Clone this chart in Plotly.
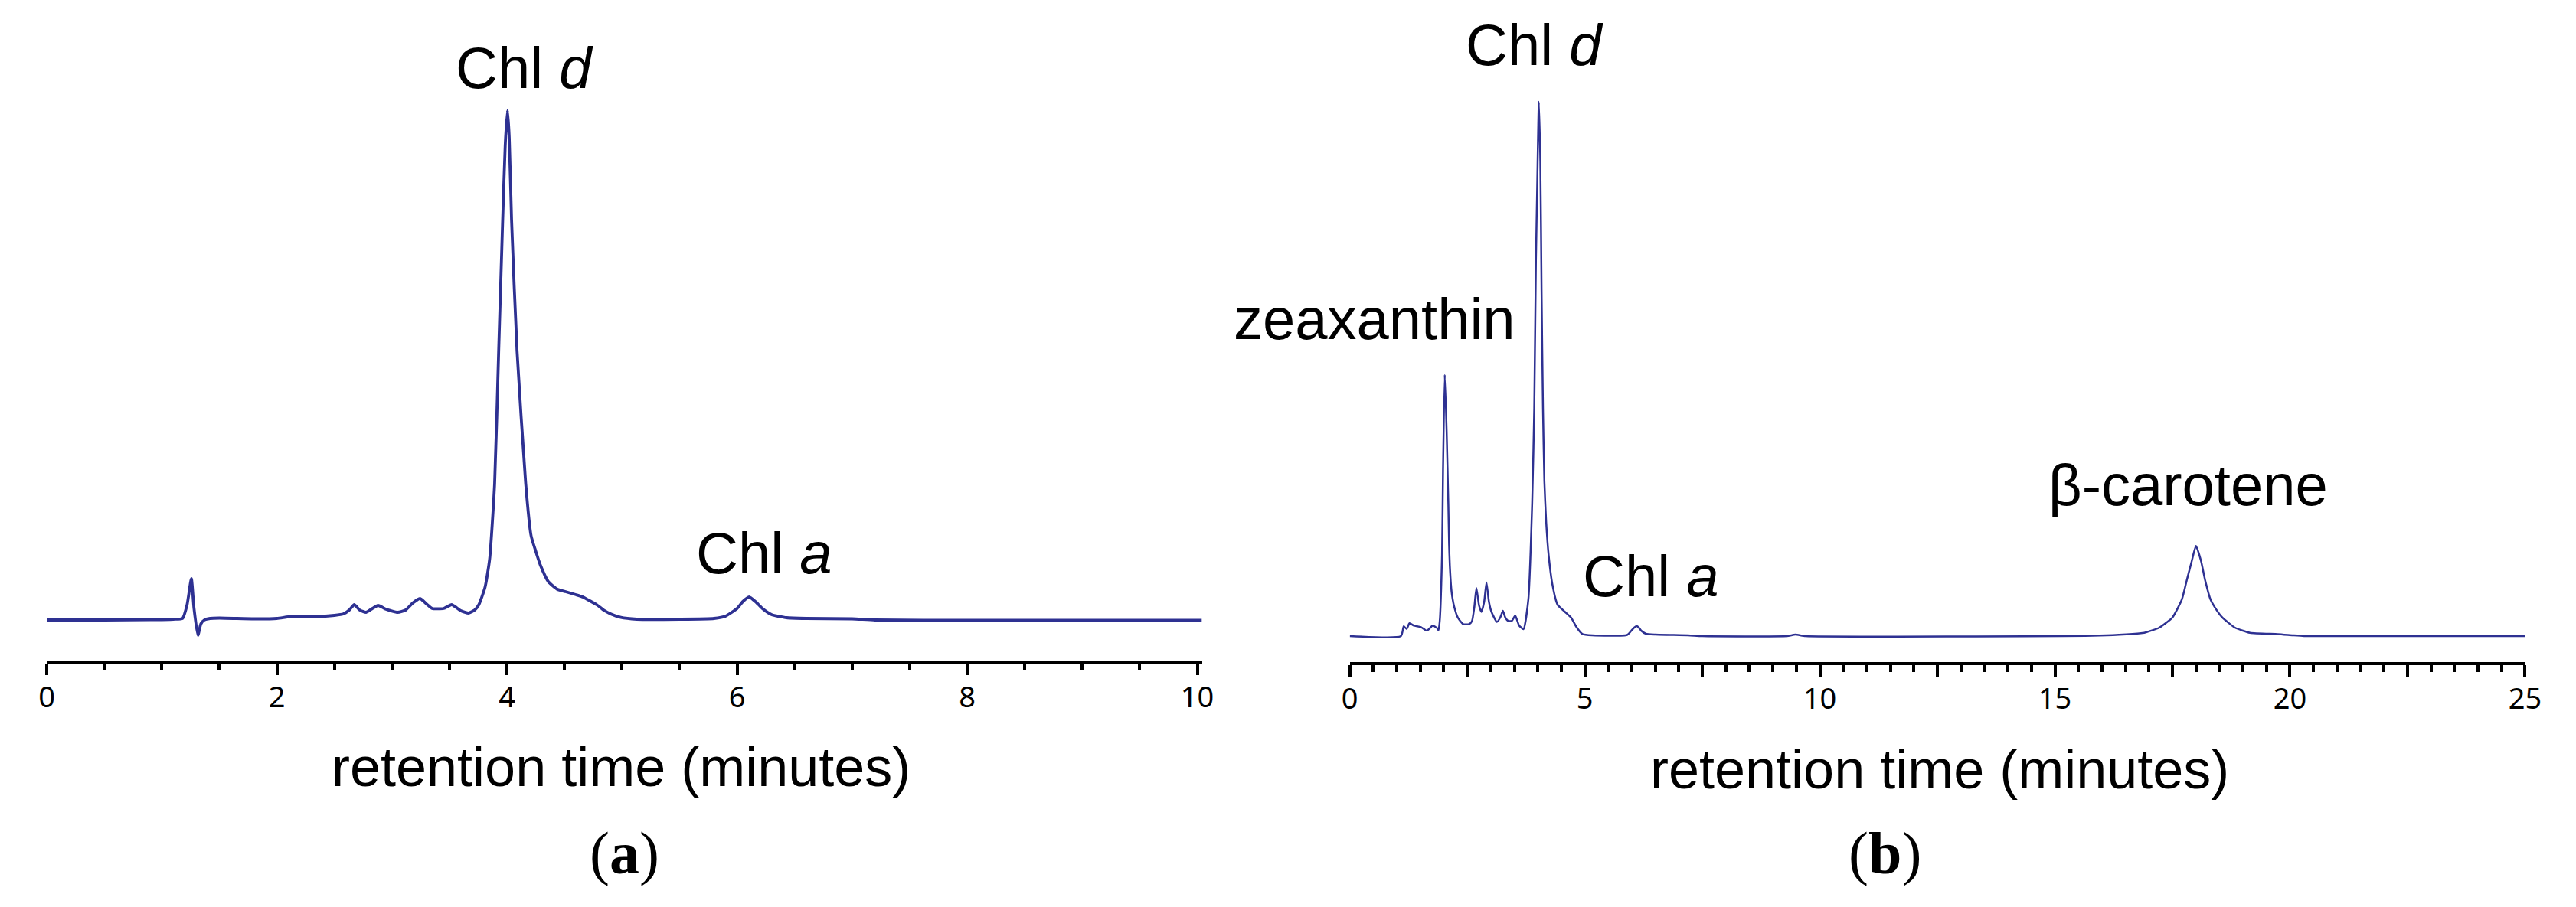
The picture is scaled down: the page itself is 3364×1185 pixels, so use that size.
import plotly.graph_objects as go

# ---------------- data ----------------
# Panel (a): retention time (min) and detector signal (arbitrary units, baseline = 0)
time_a = [0, 0.5, 0.9, 1.1, 1.18, 1.22, 1.257, 1.28, 1.314, 1.34, 1.37, 1.42, 1.5, 1.8,
          2.0, 2.12, 2.3, 2.5, 2.58, 2.63, 2.673, 2.72, 2.776, 2.83, 2.88, 2.95, 3.05,
          3.12, 3.18, 3.245, 3.3, 3.35, 3.45, 3.52, 3.6, 3.667, 3.72, 3.756, 3.81, 3.85,
          3.893, 3.928, 3.963, 3.985, 4.005, 4.02, 4.04, 4.088, 4.163, 4.21, 4.25, 4.29,
          4.36, 4.44, 4.51, 4.6, 4.66, 4.72, 4.78, 4.84, 4.9, 4.99, 5.13, 5.5, 5.8, 5.9,
          6.0, 6.05, 6.105, 6.16, 6.22, 6.3, 6.43, 6.6, 7.0, 7.2, 8.0, 10.04]
signal_a = [0, 0, 0.3, 1, 2, 20, 54, 15, -20, -5, 0, 2, 2.5, 1.5,
            2, 4.5, 4, 6, 8, 13, 20, 13, 10, 15, 19, 14, 10,
            13, 22, 28, 21, 15, 15, 20, 12, 9, 13, 20, 43, 80,
            178, 351, 523, 620, 666, 630, 523, 351, 178, 110, 90, 72,
            50, 40, 37, 33, 30, 25, 20, 13, 8, 3.3, 1, 1, 2, 5,
            15, 24, 30, 24, 15, 7, 3, 2, 1.5, 0, -0.5, -0.5]

# Panel (b)
time_b = [0, 1.09, 1.148, 1.21, 1.27, 1.365, 1.516, 1.64, 1.766, 1.858, 1.887, 1.914,
          1.963, 1.984, 2.021, 2.06, 2.097, 2.113, 2.129, 2.166, 2.22, 2.30, 2.41, 2.54,
          2.60, 2.65, 2.694, 2.75, 2.80, 2.86, 2.908, 2.96, 3.015, 3.13, 3.2, 3.258, 3.31,
          3.376, 3.45, 3.52, 3.6, 3.696, 3.80, 3.88, 3.925, 3.96, 3.99, 4.022, 4.054, 4.08,
          4.11, 4.14, 4.178, 4.23, 4.31, 4.42, 4.58, 4.71, 4.82, 4.95, 5.16, 5.9, 5.99,
          6.05, 6.105, 6.15, 6.2, 6.3, 6.5, 7.2, 7.5, 9.3, 9.48, 9.7, 15.8, 16.36, 16.9,
          17.22, 17.5, 17.7, 17.81, 17.91, 18.0, 18.11, 18.19, 18.31, 18.4, 18.56, 18.83,
          19.15, 19.74, 20.06, 20.3, 25]
signal_b = [0, 0, 12.7, 9.3, 16.7, 13.7, 11.7, 7, 13.7, 10.3, 7.5, 19.5,
            106, 216.6, 341.6, 269.5, 173, 120.4, 91.6, 58, 38.7, 24, 15.6, 15.6,
            19.5, 38, 62.7, 40, 31.5, 45, 69.9, 45, 31.5, 18.5, 24, 33, 24,
            19.5, 20, 26.7, 14, 9, 48.3, 173, 298, 490, 596, 698, 620, 452,
            298, 202, 149, 106, 67.6, 41, 31.5, 24, 12, 2.6, 1, 1.5, 7,
            11, 13, 11, 7, 3, 2, 1, 0, 0, 2, 0, 0.5, 1.7, 4.3,
            11, 24.3, 47.7, 74.3, 97.7, 117.7, 97.7, 74.3, 47.7, 37.7, 24.3, 11,
            4.3, 2.6, 1, 0, 0]

ticks_a = [0, 2, 4, 6, 8, 10]
tickvals_b = [0, 2.5, 5, 7.5, 10, 12.5, 15, 17.5, 20, 22.5, 25]
ticktext_b = ["0", "", "5", "", "10", "", "15", "", "20", "", "25"]

# ---------------- layout helpers (pixels -> paper) ----------------
W, H = 3364, 1185
def px(x):
    return x / W
def py(y):
    return 1 - y / H

LINE = "#2e3192"
SANS = "Liberation Sans, Arial, sans-serif"
SERIF = "Liberation Serif, Times New Roman, serif"

fig = go.Figure()
fig.add_trace(go.Scatter(x=time_a, y=signal_a, mode="lines", xaxis="x", yaxis="y",
                         line=dict(color=LINE, width=3.8, shape="spline", smoothing=0.5),
                         showlegend=False, hoverinfo="skip"))
fig.add_trace(go.Scatter(x=time_b, y=signal_b, mode="lines", xaxis="x2", yaxis="y2",
                         line=dict(color=LINE, width=2.5, shape="spline", smoothing=0.5),
                         showlegend=False, hoverinfo="skip"))

axis_common = dict(showgrid=False, zeroline=False, showline=True, linecolor="black",
                   linewidth=4, ticks="outside", ticklen=15, tickwidth=3.5, tickcolor="black",
                   ticklabelstandoff=-4,
                   tickfont=dict(family="Noto Sans, sans-serif", size=38, color="black"),
                   minor=dict(ticks="outside", ticklen=9, tickwidth=3.5, tickcolor="black",
                              dtick=0.5, tick0=0, showgrid=False))

fig.update_layout(
    width=W, height=H,
    margin=dict(l=0, r=0, t=0, b=0),
    paper_bgcolor="white", plot_bgcolor="white",
    xaxis=dict(domain=[px(50.5), px(1574)], range=[0, 10.04], anchor="y",
               tickmode="array", tickvals=ticks_a, **axis_common),
    yaxis=dict(domain=[py(863), py(100)], range=[-53, 710], visible=False, anchor="x"),
    xaxis2=dict(domain=[px(1769), px(3319)], range=[0, 25], anchor="y2",
                tickmode="array", tickvals=tickvals_b, ticktext=ticktext_b, **axis_common),
    yaxis2=dict(domain=[py(865), py(100)], range=[-34, 731], visible=False, anchor="x2"),
)

def label(text, x, y, size=76, family=SANS):
    fig.add_annotation(text=text, x=px(x), y=py(y), xref="paper", yref="paper",
                       xanchor="center", yanchor="middle", showarrow=False,
                       font=dict(family=family, size=size, color="black"))

label("Chl <i>d</i>", 681, 88)
label("Chl <i>a</i>", 996, 722)
label("Chl <i>d</i>", 2013, 58)
label("zeaxanthin", 1802, 416)
label("Chl <i>a</i>", 2166, 753)
label("β-carotene", 2875, 633)
label("retention time (minutes)", 808, 1002, size=72)
label("retention time (minutes)", 2547, 1005, size=72)
label("(<b>a</b>)", 812, 1114, size=78, family=SERIF)
label("(<b>b</b>)", 2475, 1114, size=78, family=SERIF)

fig.write_html("out.html")
